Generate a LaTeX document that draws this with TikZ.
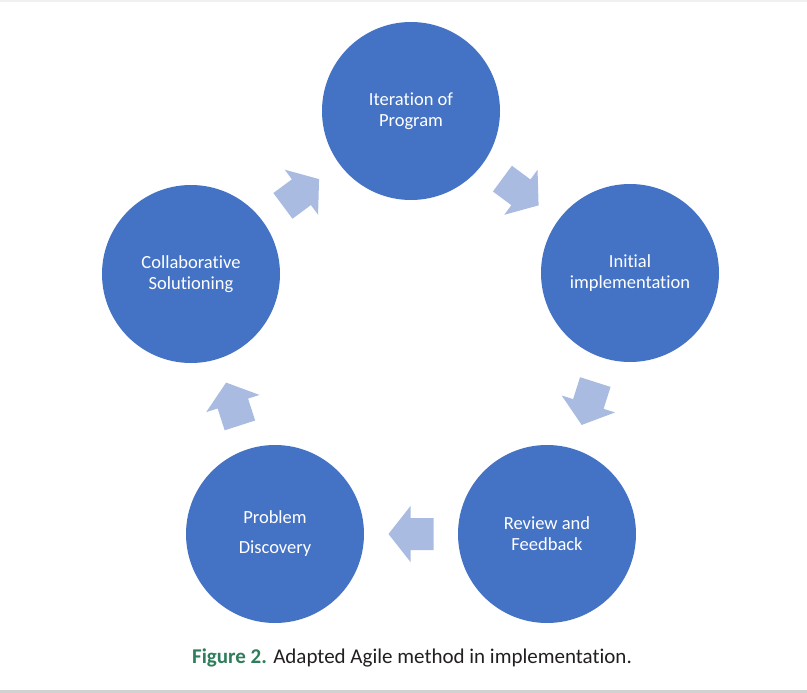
\documentclass[tikz,border=0pt]{standalone}
\usepackage{fontspec}
\setmainfont{Carlito}[RawFeature=-liga]
\usetikzlibrary{calc}
\definecolor{cblue}{HTML}{4472C4}
\definecolor{alight}{HTML}{AABBE1}
\definecolor{figgreen}{HTML}{2E7D5B}
\definecolor{captxt}{HTML}{231F20}
\tikzset{
  stage/.style={circle, fill=cblue, minimum size=178pt, inner sep=0pt,
    text=white, align=center, font=\fontsize{18.5}{21}\selectfont},
  pics/blockarrow/.style={code={
    \fill[alight] (-22.5,-16) -- (0.5,-16) -- (0.5,-28) -- (22.5,0)
      -- (0.5,28) -- (0.5,16) -- (-22.5,16) -- cycle;}}
}
\newcommand{\cyclearrow}[2]{%
  \path let \p1=($(#2)-(#1)$), \n1={atan2(\y1,\x1)} in
    ($(#1)!0.5!(#2)$) pic[rotate=\n1] {blockarrow};}
\begin{document}
\begin{tikzpicture}[x=1pt,y=-1pt]
\useasboundingbox (0,0) rectangle (807,693);
\fill[white] (0,0) rectangle (807,693);
\fill[black!6] (0,0) rectangle (807,2);
\fill[black!18] (0,690) rectangle (807,693);
\node[stage] (it) at (411,111) {Iteration of\\Program};
\node[stage] (ini) at (630,273) {Initial\\implementation};
\node[stage] (rev) at (547,534) {Review and\\Feedback};
\node[stage] (pro) at (275,534) {Problem\\[9pt]Discovery};
\node[stage] (col) at (191,274) {Collaborative\\Solutioning};
\cyclearrow{col}{it}
\cyclearrow{it}{ini}
\cyclearrow{ini}{rev}
\cyclearrow{rev}{pro}
\cyclearrow{pro}{col}
\node[font=\fontsize{21}{25}\selectfont, text=captxt] (cap) at (412,658)
  {{\color{figgreen}\bfseries Figure 2.} Adapted Agile method in implementation.};
\end{tikzpicture}
\end{document}
